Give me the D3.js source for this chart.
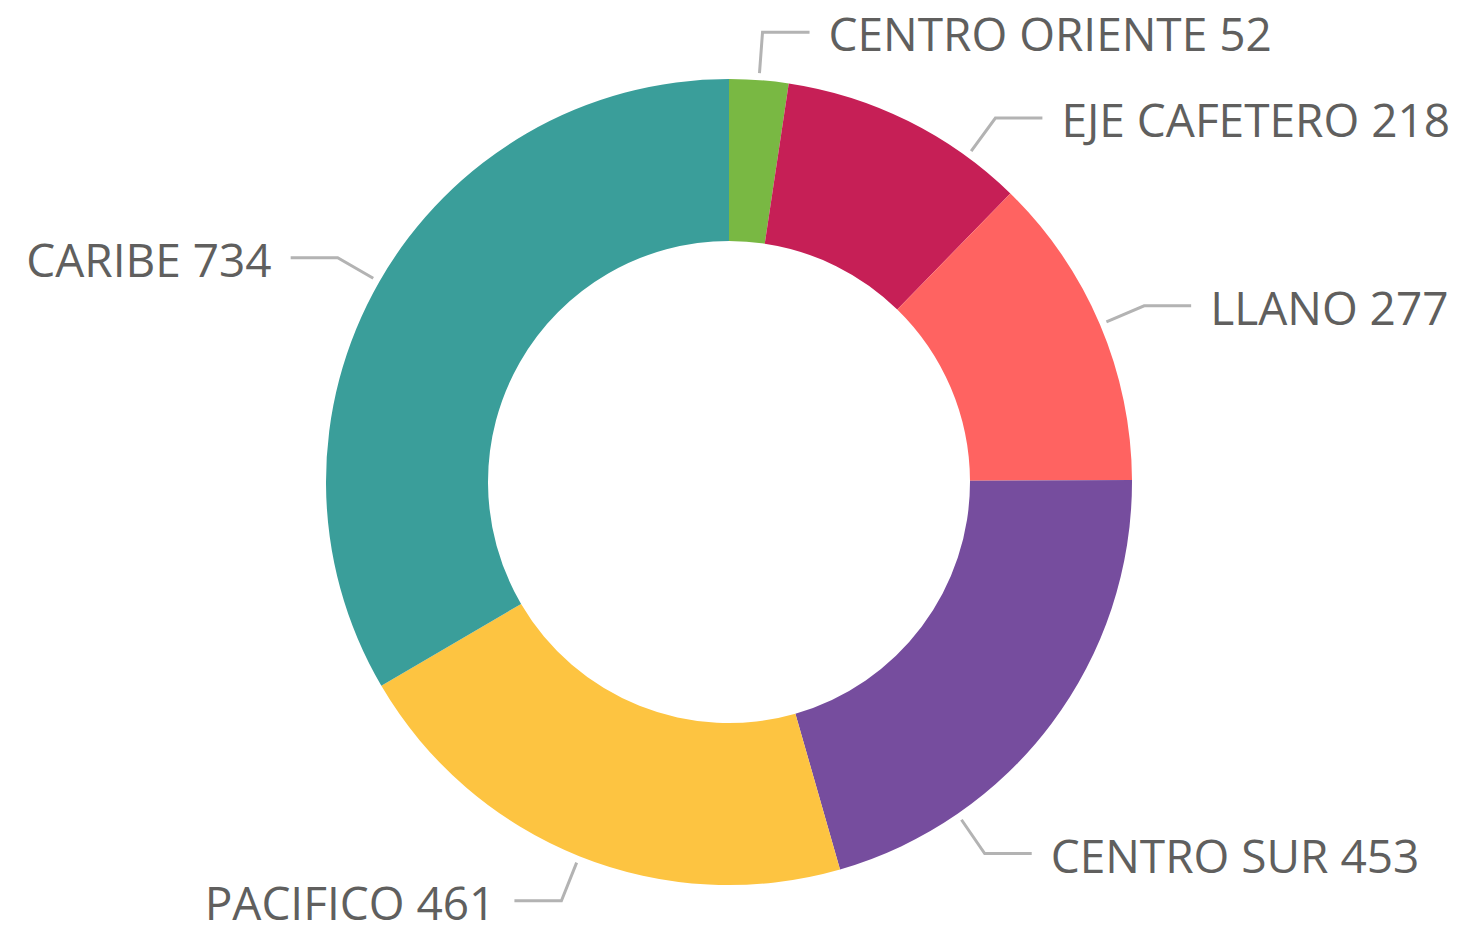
<!DOCTYPE html>
<html>
<head>
    <title>Regiones donut</title>
    <script src="https://d3js.org/d3.v7.min.js"></script>
    <style>
        body { margin: 0; background: #fff; }
    </style>
</head>
<body>
    <div id="chart"></div>

    <script>
        // data, clockwise from 12 o'clock
        const regions = ["CENTRO ORIENTE", "EJE CAFETERO", "LLANO", "CENTRO SUR", "PACIFICO", "CARIBE"];
        const counts = [52, 218, 277, 453, 461, 734];
        const colors = ["#79B843", "#C61F56", "#FF6361", "#764D9E", "#FDC441", "#3A9E9A"];

        // small angle nudges (degrees) so labels don't crowd each other
        const labelNudge = [0, 9.8, 0, 18.6, 0, 0];

        const width = 1460, height = 930;
        const cx = 729, cy = 482;
        const outerR = 403, innerR = 241;

        const svg = d3.select("#chart")
          .append("svg")
            .attr("width", width)
            .attr("height", height)
          .append("g")
            .attr("transform", `translate(${cx},${cy})`);

        const data = regions.map((r, i) => ({ name: r, value: counts[i], color: colors[i], nudge: labelNudge[i] }));

        const pie = d3.pie()
          .value(d => d.value)
          .sort(null);

        const arc = d3.arc()
          .innerRadius(innerR)
          .outerRadius(outerR);

        const arcs = pie(data);

        svg.selectAll("path.slice")
          .data(arcs)
          .enter()
          .append("path")
            .attr("class", "slice")
            .attr("d", arc)
            .style("fill", d => d.data.color);

        // leader lines + labels
        const startArc = d3.arc().innerRadius(410).outerRadius(410);
        const elbowArc = d3.arc().innerRadius(451).outerRadius(451);

        arcs.forEach(function(d) {
          const mid = (d.startAngle + d.endAngle) / 2 + d.data.nudge * Math.PI / 180;
          const a = { startAngle: mid, endAngle: mid };
          const p0 = startArc.centroid(a);
          const p1 = elbowArc.centroid(a);
          const right = Math.sin(mid) >= 0;
          const p2 = [p1[0] + (right ? 47 : -47), p1[1]];

          svg.append("polyline")
            .attr("points", [p0, p1, p2].map(p => p.join(",")).join(" "))
            .style("fill", "none")
            .style("stroke", "#b3b3b3")
            .style("stroke-width", 3);

          svg.append("text")
            .attr("x", p2[0] + (right ? 19 : -19))
            .attr("y", p2[1] + 19)
            .style("text-anchor", right ? "start" : "end")
            .style("font-family", "'Open Sans', 'Noto Sans', sans-serif")
            .style("font-size", "46px")
            .style("fill", "#605f5e")
            .text(d.data.name + " " + d.data.value);
        });
    </script>
</body>
</html>
